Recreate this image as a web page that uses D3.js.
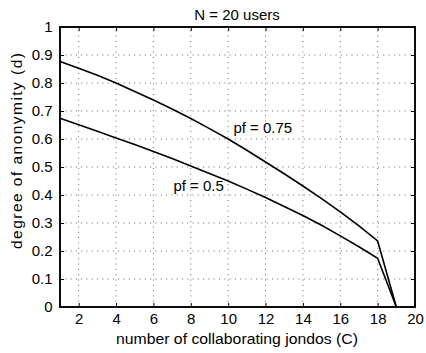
<!DOCTYPE html>
<html><head><meta charset="utf-8">
<script src="https://cdn.jsdelivr.net/npm/d3@7"></script>
<style>body{margin:0;background:#fff;} svg{display:block;font-family:"Liberation Sans",Arial,sans-serif;}</style>
</head><body>
<svg id="c" width="426" height="353"></svg>
<script>
const C = [1,2,3,4,5,6,7,8,9,10,11,12,13,14,15,16,17,18,19];
const pf075 = [0.877,0.853,0.828,0.80,0.77,0.739,0.707,0.673,0.637,0.600,0.560,0.518,0.476,0.432,0.387,0.340,0.290,0.236,0];
const pf05 = [0.674,0.651,0.628,0.604,0.58,0.555,0.53,0.504,0.477,0.45,0.421,0.391,0.359,0.327,0.292,0.254,0.215,0.174,0];
const xTicks = [2,4,6,8,10,12,14,16,18,20];
const yTicks = [0,0.1,0.2,0.3,0.4,0.5,0.6,0.7,0.8,0.9,1];
const title = "N = 20 users";
const xLabel = "number of collaborating jondos (C)";
const yLabel = "degree of anonymity (d)";
const labels = [{text:"pf = 0.75", c:10.28, d:0.622}, {text:"pf = 0.5", c:7.07, d:0.415}];

const L=60,T=27,R=415,B=307;
const FONT="Liberation Sans, Arial, sans-serif";
const svg=d3.select("#c");
const x=d3.scaleLinear().domain([1,20]).range([L,R]);
const y=d3.scaleLinear().domain([0,1]).range([B,T]);

// grid
const g=svg.append("g");
g.selectAll(".vg").data(xTicks.filter(t=>t<20)).join("line")
 .attr("x1",d=>x(d)).attr("x2",d=>x(d)).attr("y1",B).attr("y2",T)
 .attr("stroke","#444").attr("stroke-width",0.8).attr("stroke-dasharray","1,4.3");
g.selectAll(".hg").data(yTicks.filter(t=>t>0&&t<1)).join("line")
 .attr("x1",L).attr("x2",R).attr("y1",d=>y(d)).attr("y2",d=>y(d))
 .attr("stroke","#444").attr("stroke-width",0.8).attr("stroke-dasharray","1,4.3");

// axes
const xa=svg.append("g").attr("transform",`translate(0,${B})`)
 .call(d3.axisBottom(x).tickValues(xTicks).tickSizeInner(-4).tickSizeOuter(0).tickPadding(6));
const xt=svg.append("g").attr("transform",`translate(0,${T})`)
 .call(d3.axisTop(x).tickValues(xTicks).tickSizeInner(-4).tickSizeOuter(0).tickFormat(""));
const ya=svg.append("g").attr("transform",`translate(${L},0)`)
 .call(d3.axisLeft(y).tickValues(yTicks).tickSizeInner(-4).tickSizeOuter(0).tickPadding(7.5).tickFormat(d=>d===0?"0":(d===1?"1":d3.format(".1f")(d))));
const yr=svg.append("g").attr("transform",`translate(${R},0)`)
 .call(d3.axisRight(y).tickValues(yTicks).tickSizeInner(-4).tickSizeOuter(0).tickFormat(""));
[xa,xt,ya,yr].forEach(a=>{a.select(".domain").remove();a.selectAll("line").attr("stroke","#000");
 a.selectAll("text").attr("font-size",15).attr("fill","#000").attr("font-family",FONT);});
xa.selectAll("text").attr("dy","0.71em").attr("y",6);

svg.append("rect").attr("x",L).attr("y",T).attr("width",R-L).attr("height",B-T)
 .attr("fill","none").attr("stroke","#000").attr("stroke-width",1.9);

// lines
const line=d3.line().x((d,i)=>x(C[i])).y(d=>y(d));
[pf075,pf05].forEach(s=>{
 svg.append("path").datum(s).attr("d",line).attr("fill","none").attr("stroke","#000").attr("stroke-width",1.6);
});

svg.selectAll(".lab").data(labels).join("text")
 .attr("x",d=>x(d.c)).attr("y",d=>y(d.d)).attr("font-size",15).attr("text-anchor","start").attr("fill","#000")
 .text(d=>d.text);

svg.append("text").attr("x",237).attr("y",20).attr("text-anchor","middle").attr("font-size",15).text(title);
svg.append("text").attr("x",237).attr("y",344).attr("text-anchor","middle").attr("font-size",15.5)
 .attr("textLength",242).attr("lengthAdjust","spacingAndGlyphs").text(xLabel);
svg.append("text").attr("transform",`translate(22,${(T+B)/2-16}) rotate(-90)`).attr("text-anchor","middle").attr("font-size",15.5)
 .attr("textLength",196).attr("lengthAdjust","spacing").text(yLabel);
</script>
</body></html>
